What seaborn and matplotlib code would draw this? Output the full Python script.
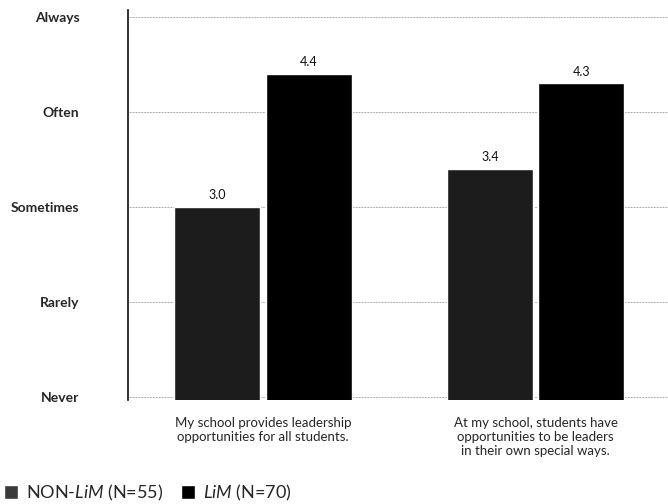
import matplotlib
matplotlib.use("Agg")
import matplotlib.pyplot as plt
import seaborn as sns
import pandas as pd
from matplotlib.patches import Patch

# Survey items and mean responses (1 = Never ... 5 = Always)
items = [
    "My school provides leadership\nopportunities for all students.",
    "At my school, students have\nopportunities to be leaders\nin their own special ways.",
]
groups = ["NON-LiM (N=55)", "LiM (N=70)"]
non_lim = [3.0, 3.4]
lim = [4.4, 4.3]
scale_labels = ["Never", "Rarely", "Sometimes", "Often", "Always"]
scale_values = [1, 2, 3, 4, 5]

df = pd.DataFrame({
    "item": items * 2,
    "group": [groups[0]] * 2 + [groups[1]] * 2,
    "score": non_lim + lim,
})

sns.set_theme(style="white")
plt.rcParams["font.family"] = ["Lato", "DejaVu Sans"]
plt.rcParams["mathtext.fontset"] = "custom"
plt.rcParams["mathtext.it"] = "Lato:italic"
plt.rcParams["mathtext.rm"] = "Lato"

fig = plt.figure(figsize=(6.68, 5.04), dpi=100)
ax = fig.add_axes([128 / 668, 1 - 400 / 504, 1 - 128 / 668, 390 / 504])

palette = {groups[0]: "#1c1c1c", groups[1]: "#000000"}
sns.barplot(data=df, x="item", y="score", hue="group", order=items,
            hue_order=groups, palette=palette, width=0.67, gap=0.06,
            saturation=1, legend=False, ax=ax, zorder=3)

# value labels above each bar
for bar, val in zip(ax.patches, non_lim + lim):
    ax.text(bar.get_x() + bar.get_width() / 2, val + 0.06, f"{val:.1f}",
            ha="center", va="bottom", fontsize=9, color="#111111")

ax.set_ylim(0.97, 5.07)
ax.set_xlim(-0.495, 1.486)
ax.set_yticks(scale_values)
ax.set_yticklabels(scale_labels, fontsize=10, fontweight="bold", ha="right")
ax.tick_params(axis="y", length=0, pad=35)
ax.tick_params(axis="x", length=0, pad=12, labelsize=9.5)
for lbl in ax.get_xticklabels():
    lbl.set_multialignment("center")
ax.set_xlabel("")
ax.set_ylabel("")

for v in scale_values:
    ax.axhline(v, color="#555555", lw=0.5, ls=(0, (1, 1.2)), zorder=1)

for side in ["top", "right", "bottom"]:
    ax.spines[side].set_visible(False)
ax.spines["left"].set_color("#111111")
ax.spines["left"].set_linewidth(1.2)

handles = [
    Patch(facecolor="#3a3a3a"),
    Patch(facecolor="#000000"),
]
labels = [r"NON-$\it{LiM}$ (N=55)", r"$\it{LiM}$ (N=70)"]
fig.legend(handles, labels, loc="lower left", bbox_to_anchor=(-0.005, -0.012),
           ncol=2, frameon=False, fontsize=13, handlelength=0.8,
           handleheight=0.8, handletextpad=0.4, columnspacing=1.0,
           borderaxespad=0.0)

fig.savefig("out.png", dpi=100)
